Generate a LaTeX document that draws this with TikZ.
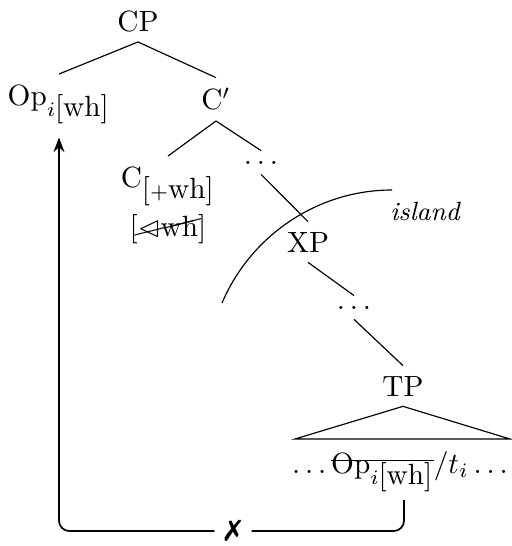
\documentclass[tikz,border=0pt]{standalone}
\usepackage{amsmath,amssymb}
\usepackage{cancel}
\usepackage{pifont}
\usetikzlibrary{arrows.meta, positioning, calc}

\newcommand{\strikeout}[1]{\setbox0\hbox{#1}\rlap{\rule[4pt]{\wd0}{0.4pt}}\box0}

\begin{document}
\begin{tikzpicture}[
  x=0.3413pt, y=-0.3413pt,
  cat/.style={anchor=base, inner sep=3.33pt},
  br/.style={line width=0.4pt},
  mv/.style={semithick, rounded corners=3.5pt},
  lbl/.style={anchor=base, font=\small\itshape, inner sep=1.5pt},
]
\useasboundingbox (0,0) rectangle (511,546);

\node[cat] (cp) at (138,31) {CP};
\node[cat] (op) at (59,105) {Op$_{i\mbox{[wh]}}$};
\node[cat] (cbar) at (216,110) {C$'$};
\node[anchor=north, align=center, inner sep=3.33pt] (c) at (168,156)
  {C$_{\mbox{[{\scriptsize+}wh]}}$\\[2pt][\cancel{$\lhd$wh}]};
\node[cat] (dots1) at (261,164) {$\ldots$};
\node[cat] (xp) at (308,252) {XP};
\node[cat] (dots2) at (354,309) {$\ldots$};
\node[cat] (tp) at (403,396) {TP};
\node[cat] (bot) at (400,473)
  {$\ldots$\,\strikeout{Op$_{i\mbox{[wh]}}$}$/t_i\ldots$};
\node[lbl] (isl) at (425,220) {island};

\coordinate (roofl) at (295,439);
\coordinate (roofr) at (510,439);
\coordinate (trace) at (404,500);

\draw[br] (cp.south) -- (op.north);
\draw[br] (cp.south) -- (cbar.north);
\draw[br] (cbar.south) -- (c.north);
\draw[br] (cbar.south) -- (dots1.north);
\draw[br] (dots1.south) -- (xp.north);
\draw[br] (xp.south) -- (dots2.north);
\draw[br] (dots2.south) -- (tp.north);
\draw[br] (tp.south) -- (roofl) -- (roofr) -- cycle;

\draw[br] (222,303) .. controls (251,235) and (318,190) .. (392,190);

\node (nope) at (233,531) {\ding{55}};
\draw[mv] (trace) |- (nope.east);
\draw[mv, -{Stealth[length=5pt]}, shorten >=1pt] (nope.west) -| (op.south);
\end{tikzpicture}
\end{document}
